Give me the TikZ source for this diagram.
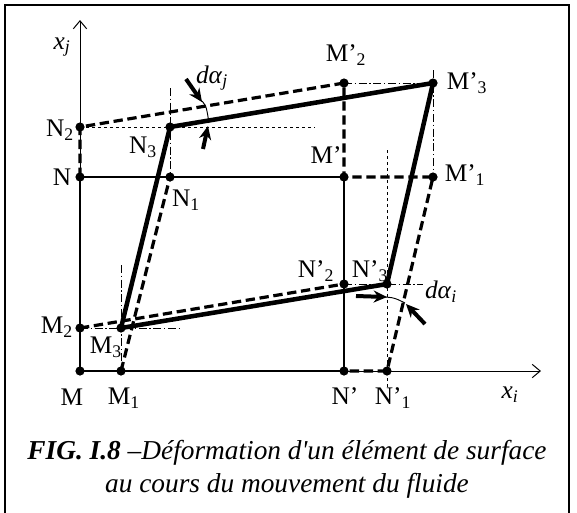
\documentclass[tikz,border=0pt]{standalone}
\usepackage{fontspec}
\setmainfont{Liberation Serif}
\usetikzlibrary{arrows.meta}
\tikzset{
  lbl/.style={font=\fontsize{19}{21}\selectfont,inner sep=0pt},
  caption/.style={font=\fontsize{20.5}{25}\selectfont\itshape,align=center,inner sep=0pt},
  orig/.style={line width=2.2pt},
  shifted/.style={line width=2.4pt,dash pattern=on 7pt off 3.5pt},
  deformed/.style={line width=3.4pt,line join=round},
  guide/.style={line width=0.6pt,dash pattern=on 2.5pt off 2pt},
  guidedot/.style={line width=0.6pt,dash pattern=on 6pt off 2pt on 1pt off 2pt},
  axis/.style={line width=0.75pt,-{Straight Barb[length=6pt,width=10pt]}},
  rot/.style={line width=3pt,-{Stealth[length=10pt,width=9pt]}},
  angarc/.style={line width=0.7pt}
}
\begin{document}
\begin{tikzpicture}[x=0.75pt,y=-0.75pt]
\path[use as bounding box] (0,0) rectangle (577,512);
\draw[line width=1.6pt] (5,5) rectangle (569,520);
% points of the element
\coordinate (M) at (80,371);    \coordinate (M1) at (121,371);
\coordinate (M2) at (80,328);   \coordinate (M3) at (121,328);
\coordinate (N) at (80,177);    \coordinate (N1) at (170,177);
\coordinate (N2) at (80,127);   \coordinate (N3) at (170,127);
\coordinate (Mp) at (344,177);  \coordinate (Mp1) at (433,177);
\coordinate (Mp2) at (344,83);  \coordinate (Mp3) at (433,83);
\coordinate (Np) at (344,371);  \coordinate (Np1) at (387,371);
\coordinate (Np2) at (344,284); \coordinate (Np3) at (387,284);
% axes
\coordinate (xjtip) at (80,20);
\coordinate (xitip) at (541,371);
\draw[axis] (M) -- (xjtip);
\draw[axis] (M) -- (xitip);
% construction lines
\draw[guide] (N2) -- (315,127);
\draw[guide] (387,150) -- (387,387);
\draw[guidedot] (170,88) -- (N1);
\draw[guidedot] (433,70) -- (Mp1);
\draw[guidedot] (Mp2) -- (Mp3);
\draw[guidedot] (Np2) -- (423,284);
\draw[guidedot] (121,265) -- (M1);
\draw[guidedot] (M2) -- (180,328);
% initial element
\draw[orig] (M) -- (N) -- (Mp) -- (Np) -- cycle;
% translated edges
\draw[shifted] (N) -- (N2) -- (Mp2) -- (Mp) -- (Mp1) -- (Np1) -- (Np);
\draw[shifted] (M2) -- (Np2);
\draw[shifted] (M1) -- (N1);
% deformed element
\draw[deformed] (M3) -- (N3) -- (Mp3) -- (Np3) -- cycle;
\foreach \p in {M,M1,M2,M3,N,N1,N2,N3,Mp,Mp1,Mp2,Mp3,Np,Np1,Np2,Np3}
  \fill (\p) circle (4.6);
% angles
\draw[angarc] (198,98) .. controls (206,104) .. (209,123);
\draw[rot] (186,79) -- (202,102);
\draw[rot] (203,149) -- (208,126);
\draw[angarc] (374,297) .. controls (393,297) .. (405,303);
\draw[rot] (356,296) -- (387,297);
\draw[rot] (425,324) -- (406,304);
% labels
\node[lbl] (lxj) at (62,47) {\textit{x}\textsubscript{\textit{j}}};
\node[lbl] (lxi) at (510,395) {\textit{x}\textsubscript{\textit{i}}};
\node[lbl] (ldaj) at (212,78) {\textit{dα}\textsubscript{\textit{j}}};
\node[lbl] (ldai) at (441,292) {\textit{dα}\textsubscript{\textit{i}}};
\foreach \p/\x/\y/\txt in {
  M/72/397/M, M1/124/398/M\textsubscript{1}, M2/57/327/M\textsubscript{2}, M3/106/347/M\textsubscript{3},
  N/62/177/N, N1/186/200/N\textsubscript{1}, N2/60/130/N\textsubscript{2}, N3/143/147/N\textsubscript{3},
  Mp/326/155/M’, Mp1/465/175/M’\textsubscript{1}, Mp2/346/55/M’\textsubscript{2}, Mp3/467/83/M’\textsubscript{3},
  Np/345/396/N’, Np1/393/398/N’\textsubscript{1}, Np2/316/271/N’\textsubscript{2}, Np3/370/271/N’\textsubscript{3}}
  \node[lbl] (l\p) at (\x,\y) {\txt};
\node[caption] (cap) at (287,469) {\textbf{FIG. I.8} –Déformation d\textquotesingle un élément de surface\\au cours du mouvement du fluide};
\end{tikzpicture}
\end{document}
